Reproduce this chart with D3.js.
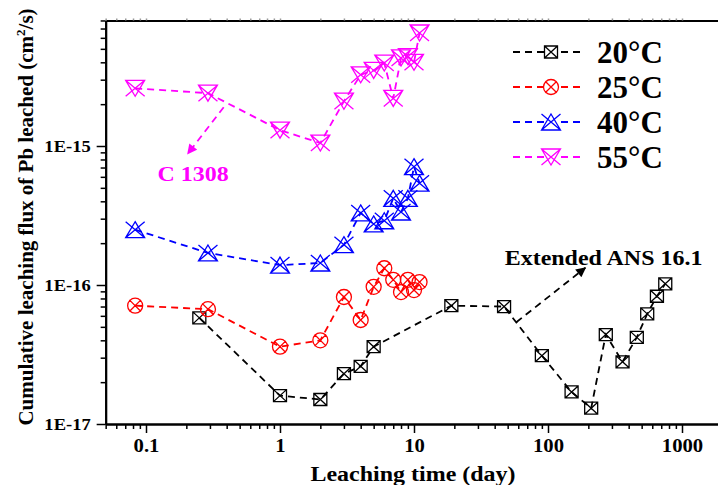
<!DOCTYPE html>
<html>
<head>
<meta charset="utf-8">
<script src="https://cdn.jsdelivr.net/npm/d3@7"></script>
<style>
  body { margin: 0; background: #fff; }
  svg { display: block; font-family: "Liberation Serif", "Times New Roman", serif; font-weight: bold; }
</style>
</head>
<body>
<div id="chart"></div>
<script>
//////////////////////////////////////////////////////////////////////////////
// Data

var days20 = [0.25, 1, 2, 3, 4, 5, 19, 47, 90, 150, 210, 270, 360, 460, 550, 650, 750];
var flux20 = [5.8e-17, 1.6e-17, 1.5e-17, 2.3e-17, 2.6e-17, 3.6e-17, 7.1e-17, 7.0e-17,
              3.1e-17, 1.7e-17, 1.3e-17, 4.4e-17, 2.8e-17, 4.2e-17, 6.2e-17, 8.3e-17, 1.02e-16];

var daysShort = [0.083, 0.29, 1, 2, 3, 4, 5, 6, 7, 8, 9, 10, 11];
var flux25 = [7.1e-17, 6.7e-17, 3.6e-17, 4.0e-17, 8.2e-17, 5.6e-17, 9.7e-17,
              1.32e-16, 1.09e-16, 8.9e-17, 1.09e-16, 9.2e-17, 1.05e-16];
var flux40 = [2.5e-16, 1.7e-16, 1.39e-16, 1.44e-16, 1.95e-16, 3.3e-16, 2.75e-16,
              2.9e-16, 4.2e-16, 3.35e-16, 4.2e-16, 7.1e-16, 5.4e-16];
var flux55 = [2.6e-15, 2.4e-15, 1.3e-15, 1.05e-15, 2.1e-15, 3.25e-15, 3.5e-15,
              3.95e-15, 2.2e-15, 4.3e-15, 4.4e-15, 4.0e-15, 6.5e-15];

var seriesNames = ["20\u00B0C", "25\u00B0C", "40\u00B0C", "55\u00B0C"];
var seriesColors = ["#000000", "#ff0000", "#0000ff", "#ff00ff"];
var seriesMarkers = ["squareX", "circleX", "triUpX", "triDownX"];

var xMajor = [0.1, 1, 10, 100, 1000];
var xMajorLabels = ["0.1", "1", "10", "100", "1000"];
var yMajor = [1e-17, 1e-16, 1e-15];
var yMajorLabels = ["1E-17", "1E-16", "1E-15"];

//////////////////////////////////////////////////////////////////////////////
// Global variables, preliminaries

var width = 718, height = 485;
var wide = 1.09;   // the source glyphs are a bit wider than Liberation Serif

// calibrate on the labelled decades, then widen to the drawn frame
var xCal = d3.scaleLog().domain([0.1, 1000]).range([146, 682]);
var xScale = d3.scaleLog().domain([0.05, 2000]).range([xCal(0.05), xCal(2000)]);
var yCal = d3.scaleLog().domain([1e-17, 1e-15]).range([424, 146]);
var yScale = d3.scaleLog().domain([1e-17, 8e-15]).range([424, yCal(8e-15)]);

function minorTicks(lo, hi) {
    var out = [];
    for (var e = Math.floor(Math.log10(lo)); e <= Math.ceil(Math.log10(hi)); e++) {
        for (var m = 2; m <= 9; m++) {
            var v = m * Math.pow(10, e);
            if (v >= lo * 0.999 && v <= hi * 1.001) out.push(v);
        }
    }
    return out;
}

function markerPath(kind) {
    if (kind === "squareX")
        return "M-6.5,-6 h13 v12 h-13 Z M-6.5,-6 L6.5,6 M6.5,-6 L-6.5,6";
    if (kind === "circleX")
        return "M7.5,0 A7.5,7.5 0 1,1 -7.5,0 A7.5,7.5 0 1,1 7.5,0 Z M-5.8,-5.8 L5.8,5.8 M5.8,-5.8 L-5.8,5.8";
    if (kind === "triUpX")
        return "M0,-8 L9.5,8 L-9.5,8 Z M-9.5,-8 L9.5,8 M9.5,-8 L-9.5,8";
    return "M-9.5,-8 L9.5,-8 L0,8 Z M-9.5,-8 L9.5,8 M9.5,-8 L-9.5,8";
}

// place a text at (x,y), stretched sideways like the source
function placeText(sel, x, y) {
    return sel.attr("transform", "translate(" + x + "," + y + ") scale(" + wide + ",1)");
}

var series = [
    { days: days20, flux: flux20 },
    { days: daysShort, flux: flux25 },
    { days: daysShort, flux: flux40 },
    { days: daysShort, flux: flux55 }
].map(function(s, i) {
    return {
        name: seriesNames[i],
        color: seriesColors[i],
        marker: seriesMarkers[i],
        points: s.days.map(function(d, j) { return { t: d, f: s.flux[j] }; })
    };
});

var svg = d3.select("#chart")
    .append("svg")
    .attr("width", width)
    .attr("height", height);

//////////////////////////////////////////////////////////////////////////////
// Axes

var xMin = minorTicks(0.05, 2000).filter(function(v) {
    return xMajor.every(function(m) { return Math.abs(v / m - 1) > 1e-6; });
});
var yMin = minorTicks(1e-17, 8e-15).filter(function(v) {
    return yMajor.every(function(m) { return Math.abs(v / m - 1) > 1e-6; });
});

function styleAxis(g, w) {
    g.select(".domain").attr("stroke-width", w);
    g.selectAll(".tick line").attr("stroke-width", 1.5);
    g.selectAll("text")
        .attr("fill", "#000")
        .style("font-family", "'Liberation Serif', serif")
        .style("font-weight", "bold");
}

var x0 = xScale.range()[0], y0 = yScale.range()[0], yTop = yScale.range()[1];

svg.append("g")
    .attr("transform", "translate(0," + y0 + ")")
    .call(d3.axisBottom(xScale).tickValues(xMin).tickSize(5).tickFormat("").tickSizeOuter(0))
    .call(styleAxis, 2);

svg.append("g")
    .attr("transform", "translate(0," + y0 + ")")
    .call(d3.axisBottom(xScale).tickValues(xMajor).tickSize(9).tickPadding(6).tickSizeOuter(0)
        .tickFormat(function(d, i) { return xMajorLabels[i]; }))
    .call(styleAxis, 2)
    .selectAll("text")
    .style("font-size", "19px")
    .attr("transform", "scale(" + wide + ",1)");

svg.append("g")
    .attr("transform", "translate(0," + yTop + ")")
    .call(d3.axisTop(xScale).tickValues(xMin.concat(xMajor)).tickSize(2).tickFormat("").tickSizeOuter(0))
    .call(styleAxis, 2)
    .selectAll(".tick line").attr("stroke", "#999");

svg.append("g")
    .attr("transform", "translate(" + x0 + ",0)")
    .call(d3.axisLeft(yScale).tickValues(yMin).tickSize(5).tickFormat("").tickSizeOuter(0))
    .call(styleAxis, 2);

svg.append("g")
    .attr("transform", "translate(" + x0 + ",0)")
    .call(d3.axisLeft(yScale).tickValues(yMajor).tickSize(9).tickPadding(6).tickSizeOuter(0)
        .tickFormat(function(d, i) { return yMajorLabels[i]; }))
    .call(styleAxis, 2)
    .selectAll("text")
    .style("font-size", "17px")
    .attr("x", -15 / wide)
    .attr("transform", "scale(" + wide + ",1)");

// axis titles
var yTitle = svg.append("text")
    .attr("transform", "translate(33,217) rotate(-90)")
    .attr("text-anchor", "middle")
    .style("font-size", "21px");
yTitle.append("tspan").text("Cumulative leaching flux of Pb leached (cm");
yTitle.append("tspan").attr("dy", -8).style("font-size", "13px").text("2");
yTitle.append("tspan").attr("dy", 8).text("/s)");

svg.append("text")
    .call(placeText, 413, 481)
    .attr("text-anchor", "middle")
    .style("font-size", "22px")
    .text("Leaching time (day)");

//////////////////////////////////////////////////////////////////////////////
// Series

var line = d3.line()
    .x(function(d) { return xScale(d.t); })
    .y(function(d) { return yScale(d.f); });

var groups = svg.append("g")
    .selectAll("g")
    .data(series)
    .enter()
    .append("g");

groups.append("path")
    .attr("d", function(d) { return line(d.points); })
    .attr("fill", "none")
    .attr("stroke", function(d) { return d.color; })
    .attr("stroke-width", 1.8)
    .attr("stroke-dasharray", "7,5");

groups.selectAll("path.mk")
    .data(function(d) { return d.points.map(function(p) { return { p: p, s: d }; }); })
    .enter()
    .append("path")
    .attr("class", "mk")
    .attr("transform", function(d) {
        return "translate(" + xScale(d.p.t) + "," + yScale(d.p.f) + ")";
    })
    .attr("d", function(d) { return markerPath(d.s.marker); })
    .attr("fill", "none")
    .attr("stroke", function(d) { return d.s.color; })
    .attr("stroke-width", 1.3);

//////////////////////////////////////////////////////////////////////////////
// Annotations

svg.append("defs").selectAll("marker")
    .data(["#ff00ff", "#000000"])
    .enter()
    .append("marker")
    .attr("id", function(d, i) { return "arrow" + i; })
    .attr("viewBox", "0 0 10 10")
    .attr("refX", 9).attr("refY", 5)
    .attr("markerWidth", 12).attr("markerHeight", 10)
    .attr("markerUnits", "userSpaceOnUse")
    .attr("orient", "auto")
    .append("path")
    .attr("d", "M0,0 L10,5 L0,10 Z")
    .attr("fill", function(d) { return d; });

var arrows = [
    { from: [0.38, 1.9e-15], to: [0.205, 8.8e-16], color: "#ff00ff", id: 0 },
    { from: [58, 5.4e-17], to: [190, 1.33e-16], color: "#000000", id: 1 }
];

svg.append("g").selectAll("line")
    .data(arrows)
    .enter()
    .append("line")
    .attr("x1", function(d) { return xScale(d.from[0]); })
    .attr("y1", function(d) { return yScale(d.from[1]); })
    .attr("x2", function(d) { return xScale(d.to[0]); })
    .attr("y2", function(d) { return yScale(d.to[1]); })
    .attr("stroke", function(d) { return d.color; })
    .attr("stroke-width", 1.8)
    .attr("stroke-dasharray", "7,5")
    .attr("marker-end", function(d) { return "url(#arrow" + d.id + ")"; });

svg.append("text")
    .call(placeText, xScale(0.122), yScale(5.6e-16))
    .attr("fill", "#ff00ff")
    .style("font-size", "22px")
    .text("C 1308");

svg.append("text")
    .call(placeText, xScale(47.5), yScale(1.39e-16))
    .attr("fill", "#000")
    .style("font-size", "22px")
    .text("Extended ANS 16.1");

//////////////////////////////////////////////////////////////////////////////
// Legend

var legend = svg.append("g")
    .selectAll("g")
    .data(series)
    .enter()
    .append("g")
    .attr("transform", function(d, i) { return "translate(513," + (52 + i * 35) + ")"; });

legend.append("line")
    .attr("x1", 0).attr("x2", 72)
    .attr("stroke", function(d) { return d.color; })
    .attr("stroke-width", 1.8)
    .attr("stroke-dasharray", "7,5");

legend.append("path")
    .attr("transform", "translate(38,0)")
    .attr("d", function(d) { return markerPath(d.marker); })
    .attr("fill", "#fff")
    .attr("stroke", function(d) { return d.color; })
    .attr("stroke-width", 1.3);

legend.append("text")
    .attr("x", 84)
    .attr("y", 11)
    .style("font-size", "31px")
    .text(function(d) { return d.name; });
</script>
</body>
</html>
